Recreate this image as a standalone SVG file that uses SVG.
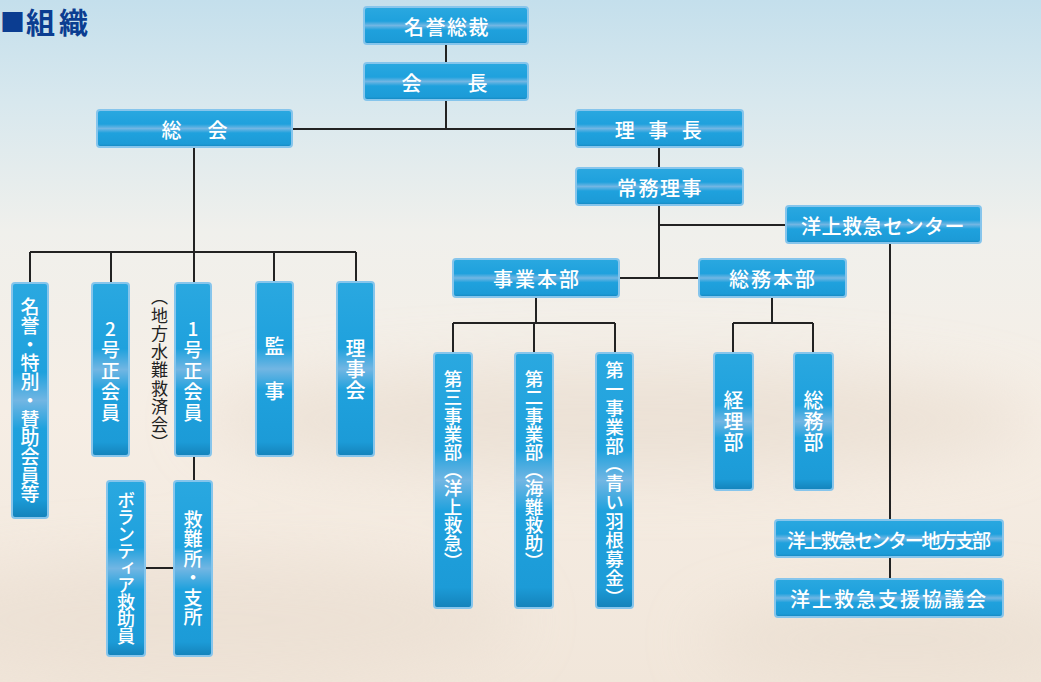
<svg xmlns="http://www.w3.org/2000/svg" width="1041" height="682" viewBox="0 0 1041 682">
<style>
.box{fill:url(#bx);stroke:#86c5ec;stroke-width:2}
.lbl{font-family:"Noto Sans CJK JP","Noto Sans CJK SC",sans-serif;font-weight:500;fill:#ffffff;text-anchor:middle;dominant-baseline:central}
.v{writing-mode:vertical-rl}
.up{text-orientation:upright}
.con{stroke:#222;stroke-width:2;fill:none}
.note{font-family:"Noto Sans CJK JP","Noto Sans CJK SC",sans-serif;fill:#222;text-anchor:middle;writing-mode:vertical-rl}
</style>
<defs>
<linearGradient id="bg" x1="0" y1="0" x2="0" y2="1">
<stop offset="0" stop-color="#c4dfec"/>
<stop offset="0.15" stop-color="#d8e8ee"/>
<stop offset="0.34" stop-color="#f0f0ec"/>
<stop offset="0.6" stop-color="#f6eee5"/>
<stop offset="1" stop-color="#f1e6da"/>
</linearGradient>
<linearGradient id="bx" x1="0" y1="0" x2="0" y2="1">
<stop offset="0" stop-color="#2aa8e0"/>
<stop offset="0.38" stop-color="#1fa1dd"/>
<stop offset="0.5" stop-color="#72b6e3"/>
<stop offset="0.62" stop-color="#1fa1dd"/>
<stop offset="0.92" stop-color="#1c9bd7"/>
<stop offset="1" stop-color="#1482ba"/>
</linearGradient>
<filter id="blur" x="-50%" y="-50%" width="200%" height="200%"><feGaussianBlur stdDeviation="30"/></filter>
</defs>
<rect x="0" y="0" width="1041" height="682" fill="url(#bg)"/>
<g filter="url(#blur)" opacity="0.55">
<ellipse cx="620" cy="420" rx="420" ry="55" fill="#e4d8ca"/>
<ellipse cx="200" cy="620" rx="320" ry="60" fill="#e8dccf"/>
<ellipse cx="900" cy="640" rx="200" ry="40" fill="#e6dacc"/>
</g>
<text font-family="'Noto Sans CJK JP','Noto Sans CJK SC',sans-serif" font-weight="bold" fill="#0b3d91"><tspan x="0" y="32" font-size="25">■</tspan><tspan x="26" y="34" font-size="29" letter-spacing="4">組織</tspan></text>

<g id="connectors">
<path class="con" d="M446 44V63M446 100V129M292 129H576"/>
<path class="con" d="M194 147V252M30 252H356M30 252V283M111 252V283M194 252V283M274 252V283M356 252V283"/>
<path class="con" d="M194 456V481M145 568H174"/>
<path class="con" d="M659 147V168M659 205V278M659 225H786M619 278H699"/>
<path class="con" d="M536 297V323M453 323H615M453 323V353M534 323V353M615 323V353"/>
<path class="con" d="M772 297V323M733 323H813M733 323V353M813 323V353"/>
<path class="con" d="M890 243V520M890 557V579"/>
</g>

<g id="n-meiyosousai"><rect class="box" x="364" y="7" width="164" height="37" rx="3"/><text class="lbl" x="447" y="26" style="font-size:20px" letter-spacing="1.5">名誉総裁</text></g>
<g id="n-kaicho"><rect class="box" x="364" y="63" width="164" height="37" rx="3"/><text class="lbl" x="451" y="82" style="font-size:20px" letter-spacing="13">会　長</text></g>
<g id="n-soukai"><rect class="box" x="97" y="110" width="195" height="37" rx="3"/><text class="lbl" x="196" y="129" style="font-size:20px" letter-spacing="3">総　会</text></g>
<g id="n-rijicho"><rect class="box" x="576" y="110" width="167" height="37" rx="3"/><text class="lbl" x="665" y="129" style="font-size:20px" letter-spacing="13.5">理事長</text></g>
<g id="n-joumu"><rect class="box" x="576" y="168" width="167" height="37" rx="3"/><text class="lbl" x="660" y="187" style="font-size:20px" letter-spacing="1.5">常務理事</text></g>
<g id="n-center"><rect class="box" x="786" y="206" width="195" height="37" rx="3"/><text class="lbl" x="883" y="225" style="font-size:20px" letter-spacing="0.5">洋上救急センター</text></g>
<g id="n-jigyou"><rect class="box" x="453" y="259" width="166" height="38" rx="3"/><text class="lbl" x="537" y="278" style="font-size:20px" letter-spacing="2">事業本部</text></g>
<g id="n-soumuhonbu"><rect class="box" x="699" y="259" width="147" height="38" rx="3"/><text class="lbl" x="773" y="278" style="font-size:20px" letter-spacing="2">総務本部</text></g>
<g id="n-chihou"><rect class="box" x="775" y="520" width="228" height="37" rx="3"/><text class="lbl" x="889" y="539" style="font-size:19px" textLength="204" lengthAdjust="spacing">洋上救急センター地方支部</text></g>
<g id="n-kyougikai"><rect class="box" x="775" y="579" width="228" height="38" rx="3"/><text class="lbl" x="889" y="598" style="font-size:20px" letter-spacing="2">洋上救急支援協議会</text></g>

<g id="n-meiyo"><rect class="box" x="12" y="283" width="36" height="235" rx="3"/><text class="lbl v" x="30" y="400.5" style="font-size:19px" letter-spacing="-0.3">名誉・特別・賛助会員等</text></g>
<g id="n-2gou"><rect class="box" x="92" y="283" width="37" height="173" rx="3"/><text class="lbl v up" x="110.5" y="371.5" style="font-size:19px" letter-spacing="2">2号正会員</text></g>
<g id="n-1gou"><rect class="box" x="175" y="283" width="36" height="173" rx="3"/><text class="lbl v up" x="193" y="371.5" style="font-size:19px" letter-spacing="2">1号正会員</text><text class="note" x="159.5" y="370.6" style="font-size:17px" letter-spacing="1.25">（地方水難救済会）</text></g>
<g id="n-kanji"><rect class="box" x="256" y="282" width="37" height="174" rx="3"/><text class="lbl v" x="274.5" y="370" style="font-size:20px" letter-spacing="2.5">監　事</text></g>
<g id="n-rijikai"><rect class="box" x="337" y="282" width="37" height="174" rx="3"/><text class="lbl v" x="355.5" y="370" style="font-size:20px" letter-spacing="1">理事会</text></g>
<g id="n-volunteer"><rect class="box" x="107" y="481" width="38" height="175" rx="3"/><text class="lbl v" x="126" y="568" style="font-size:18px" letter-spacing="-1">ボランティア救助員</text></g>
<g id="n-kyunanjo"><rect class="box" x="174" y="481" width="38" height="175" rx="3"/><text class="lbl v" x="193" y="568.5" style="font-size:19px" letter-spacing="0.5">救難所・支所</text></g>
<g id="n-dai3"><rect class="box" x="434" y="353" width="38" height="255" rx="3"/><text class="lbl v" x="453" y="470" style="font-size:18.5px" letter-spacing="-0.3">第三事業部（洋上救急）</text></g>
<g id="n-dai2"><rect class="box" x="515" y="353" width="38" height="255" rx="3"/><text class="lbl v" x="534" y="470" style="font-size:18.5px" letter-spacing="-0.3">第二事業部（海難救助）</text></g>
<g id="n-dai1"><rect class="box" x="596" y="353" width="37" height="255" rx="3"/><text class="lbl v" x="614.5" y="483.5" style="font-size:18.5px" letter-spacing="0.4">第一事業部（青い羽根募金）</text></g>
<g id="n-keiri"><rect class="box" x="714" y="353" width="39" height="137" rx="3"/><text class="lbl v" x="733.5" y="422" style="font-size:20px" letter-spacing="1">経理部</text></g>
<g id="n-soumubu"><rect class="box" x="794" y="353" width="39" height="137" rx="3"/><text class="lbl v" x="813.5" y="422" style="font-size:20px" letter-spacing="1">総務部</text></g>
</svg>
